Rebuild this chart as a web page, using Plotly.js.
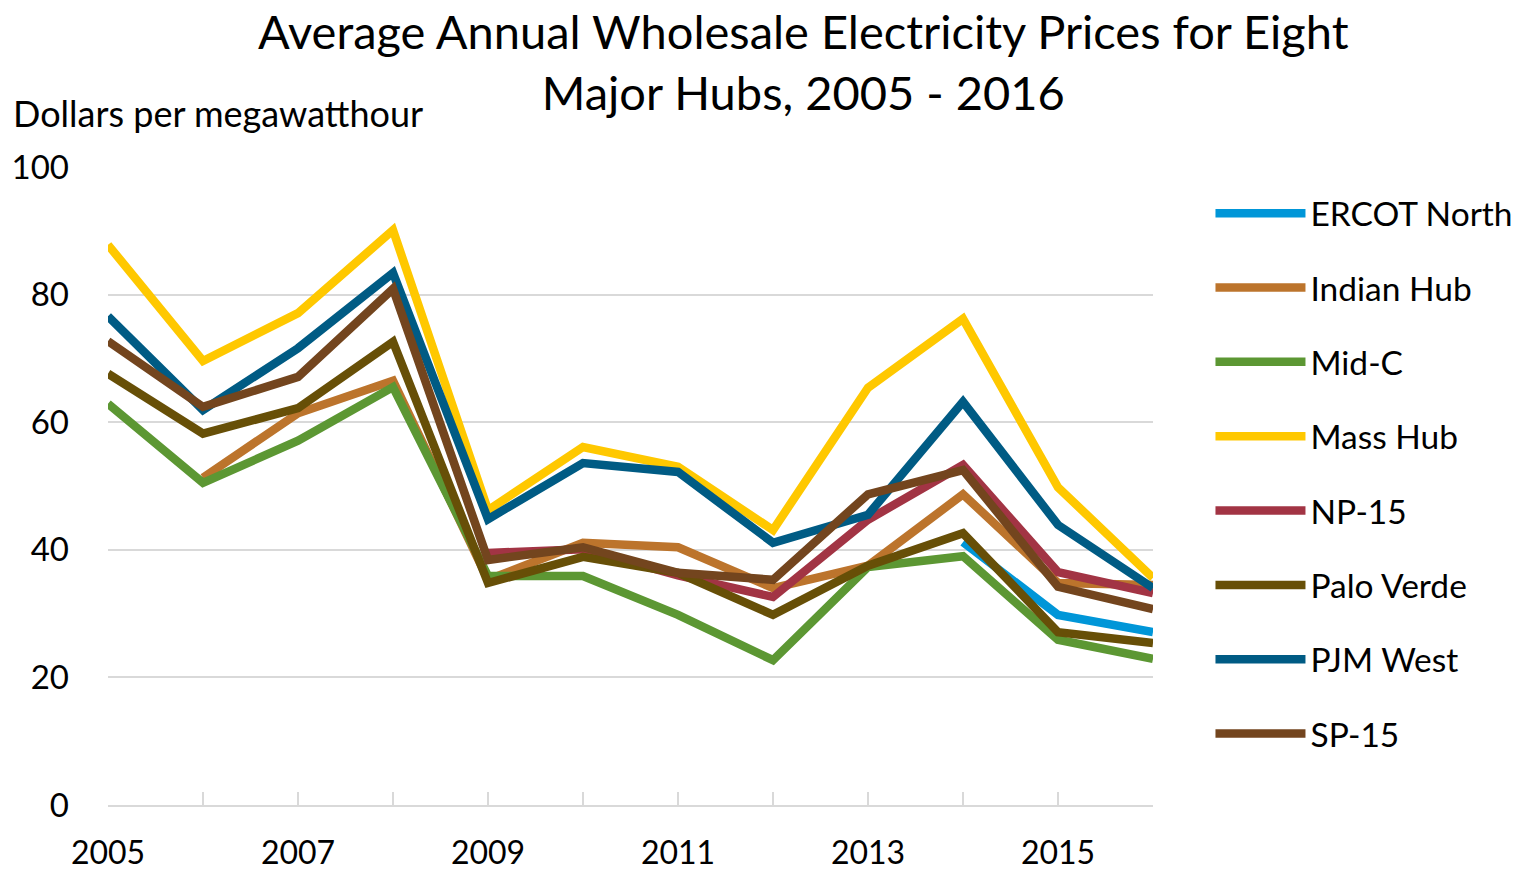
<!DOCTYPE html>
<html>
<head>
<meta charset="utf-8">
<script src="https://cdn.plot.ly/plotly-3.0.1.min.js"></script>
<style>
html,body{margin:0;padding:0;background:#fff;}
#chart{width:1533px;height:871px;}
</style>
</head>
<body>
<div id="chart"></div>
<script>
const years = [2005, 2006, 2007, 2008, 2009, 2010, 2011, 2012, 2013, 2014, 2015, 2016];
const xTickLabels = ['2005', '', '2007', '', '2009', '', '2011', '', '2013', '', '2015', ''];
const yTickValues = [0, 20, 40, 60, 80, 100];

const ercotNorth = [null, null, null, null, null, null, null, null, null, 41.2, 29.8, 27.1];
const indianHub  = [null, 51.3, 61.4, 66.5, 35.3, 41.1, 40.4, 34.0, 37.5, 48.7, 34.8, 34.5];
const midC       = [62.9, 50.5, 57.1, 65.5, 35.9, 35.9, 29.8, 22.7, 37.3, 39.0, 25.9, 22.9];
const massHub    = [87.8, 69.6, 77.1, 90.1, 46.2, 56.1, 53.0, 43.1, 65.4, 76.2, 49.8, 35.6];
const np15       = [null, null, null, null, 39.5, 40.1, 36.0, 32.6, 44.7, 53.3, 36.5, 33.2];
const paloVerde  = [67.6, 58.2, 62.2, 72.6, 34.8, 38.9, 36.4, 29.8, 37.5, 42.6, 27.1, 25.4];
const pjmWest    = [76.6, 61.9, 71.6, 83.4, 44.8, 53.6, 52.2, 41.1, 45.5, 63.2, 43.9, 34.0];
const sp15       = [72.7, 62.4, 67.1, 80.9, 38.4, 40.4, 36.4, 35.3, 48.7, 52.5, 34.2, 30.7];

const seriesNames = ['ERCOT North', 'Indian Hub', 'Mid-C', 'Mass Hub', 'NP-15', 'Palo Verde', 'PJM West', 'SP-15'];
const seriesData = [ercotNorth, indianHub, midC, massHub, np15, paloVerde, pjmWest, sp15];
const seriesColors = ['#0096D8', '#BC742C', '#5C9733', '#FFC800', '#A23444', '#674F07', '#005B84', '#73451E'];

const FONT = 'Lato, "Open Sans", "DejaVu Sans", sans-serif';

const traces = seriesNames.map((name, i) => ({
  type: 'scatter',
  mode: 'lines',
  name: name,
  x: years,
  y: seriesData[i],
  connectgaps: false,
  legendgroup: 'g' + i,
  line: {color: seriesColors[i], width: 8.5, shape: 'linear'},
  hoverinfo: 'x+y+name'
}));

const layout = {
  width: 1533,
  height: 871,
  paper_bgcolor: '#ffffff',
  plot_bgcolor: '#ffffff',
  margin: {l: 108, r: 380, t: 167, b: 66, pad: 0},
  font: {family: FONT, color: '#000000', size: 30},
  title: {
    text: 'Average Annual Wholesale Electricity Prices for Eight<br>Major Hubs, 2005 - 2016',
    font: {family: FONT, size: 47, color: '#000000'},
    x: 0.524, xref: 'container', xanchor: 'center',
    y: 0.944, yref: 'container', yanchor: 'top'
  },
  xaxis: {
    range: [2005, 2016],
    tickvals: years,
    ticktext: xTickLabels,
    ticks: 'inside',
    ticklen: 13,
    tickwidth: 2,
    tickcolor: '#d9d9d9',
    showline: true,
    linecolor: '#d9d9d9',
    linewidth: 2,
    showgrid: false,
    zeroline: false,
    ticklabelstandoff: 19,
    tickfont: {family: FONT, size: 32, color: '#000000'},
    fixedrange: true
  },
  yaxis: {
    range: [0, 100],
    tickvals: yTickValues,
    ticks: '',
    showgrid: true,
    gridcolor: '#d9d9d9',
    gridwidth: 2,
    zeroline: false,
    showline: false,
    ticklabelstandoff: 38,
    tickfont: {family: FONT, size: 33, color: '#000000'},
    fixedrange: true
  },
  showlegend: true,
  legend: {
    x: 1.055, xanchor: 'left', xref: 'paper',
    y: 0.972, yanchor: 'top', yref: 'paper',
    font: {family: FONT, size: 33.5, color: '#000000'},
    itemwidth: 90,
    traceorder: 'grouped',
    tracegroupgap: 27.8,
    bgcolor: 'rgba(0,0,0,0)'
  },
  annotations: [{
    text: 'Dollars per megawatthour',
    xref: 'paper', yref: 'paper',
    x: -0.093, xanchor: 'left',
    y: 1.085, yanchor: 'middle',
    showarrow: false,
    font: {family: FONT, size: 36, color: '#000000'}
  }]
};

Plotly.newPlot('chart', traces, layout, {displayModeBar: false, staticPlot: false});
</script>
</body>
</html>
